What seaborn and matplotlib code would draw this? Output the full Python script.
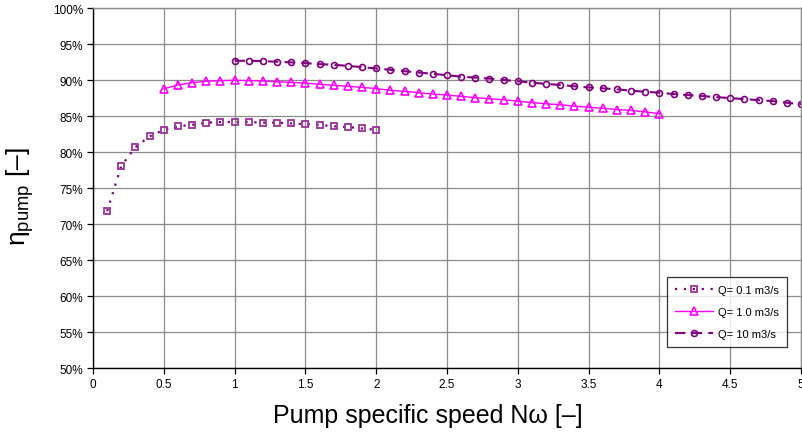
import numpy as np
import pandas as pd
import matplotlib
matplotlib.use("Agg")
import matplotlib.pyplot as plt
import seaborn as sns
from matplotlib.ticker import PercentFormatter

# Q = 0.1 m3/s
x_q01 = [0.1, 0.2, 0.3, 0.4, 0.5, 0.6, 0.7, 0.8, 0.9, 1.0,
         1.1, 1.2, 1.3, 1.4, 1.5, 1.6, 1.7, 1.8, 1.9, 2.0]
eta_q01 = [71.8, 78.1, 80.7, 82.2, 83.1, 83.6, 83.8, 84.1, 84.2, 84.2,
           84.2, 84.1, 84.1, 84.0, 83.9, 83.8, 83.6, 83.5, 83.3, 83.1]

# Q = 1.0 m3/s
x_q1 = [0.5, 0.6, 0.7, 0.8, 0.9, 1.0, 1.1, 1.2, 1.3, 1.4, 1.5, 1.6,
        1.7, 1.8, 1.9, 2.0, 2.1, 2.2, 2.3, 2.4, 2.5, 2.6, 2.7, 2.8,
        2.9, 3.0, 3.1, 3.2, 3.3, 3.4, 3.5, 3.6, 3.7, 3.8, 3.9, 4.0]
eta_q1 = [88.8, 89.35, 89.67, 89.86, 89.95, 90.0, 89.95, 89.9, 89.8, 89.7, 89.6, 89.44,
          89.3, 89.16, 89.0, 88.85, 88.6, 88.46, 88.27, 88.08, 87.94, 87.76, 87.57, 87.43,
          87.29, 87.1, 86.9, 86.73, 86.6, 86.4, 86.26, 86.1, 85.93, 85.8, 85.6, 85.37]

# Q = 10 m3/s
x_q10 = [1.0, 1.1, 1.2, 1.3, 1.4, 1.5, 1.6, 1.7, 1.8, 1.9, 2.0,
         2.1, 2.2, 2.3, 2.4, 2.5, 2.6, 2.7, 2.8, 2.9, 3.0,
         3.1, 3.2, 3.3, 3.4, 3.5, 3.6, 3.7, 3.8, 3.9, 4.0,
         4.1, 4.2, 4.3, 4.4, 4.5, 4.6, 4.7, 4.8, 4.9, 5.0]
eta_q10 = [92.71, 92.71, 92.66, 92.57, 92.48, 92.38, 92.24, 92.15, 92.0, 91.82, 91.64,
           91.45, 91.26, 91.07, 90.89, 90.7, 90.5, 90.37, 90.23, 90.05, 89.86,
           89.67, 89.49, 89.35, 89.16, 89.0, 88.88, 88.74, 88.55, 88.4, 88.27,
           88.08, 87.94, 87.8, 87.66, 87.52, 87.38, 87.24, 87.1, 86.87, 86.68]

labels = ["Q= 0.1 m3/s", "Q= 1.0 m3/s", "Q= 10 m3/s"]
xtick_labels = ["0", "0.5", "1", "1.5", "2", "2.5", "3", "3.5", "4", "4.5", "5"]

sns.set_style("white")
plt.rcParams['font.family'] = ['Liberation Sans', 'DejaVu Sans']
plt.rcParams['mathtext.fontset'] = 'custom'
plt.rcParams['mathtext.rm'] = 'Liberation Sans'
plt.rcParams['mathtext.it'] = 'Liberation Sans:italic'
plt.rcParams['text.color'] = 'black'
plt.rcParams['axes.labelcolor'] = 'black'
plt.rcParams['xtick.color'] = 'black'
plt.rcParams['ytick.color'] = 'black'

fig = plt.figure(figsize=(8.03, 4.35), dpi=100)
ax = fig.add_axes([0.1158, 0.1517, 0.8817, 0.8269])

df1 = pd.DataFrame({"x": x_q01, "y": eta_q01})
df2 = pd.DataFrame({"x": x_q1, "y": eta_q1})
df3 = pd.DataFrame({"x": x_q10, "y": eta_q10})

purple = "#800080"
magenta = "#FF00FF"

sns.lineplot(data=df1, x="x", y="y", ax=ax, color=purple, linestyle=(0, (1, 3)),
             linewidth=1.6, marker="s", markersize=4.3, markerfacecolor="none",
             markeredgecolor="#993399", markeredgewidth=1.3, label=labels[0])
sns.lineplot(data=df2, x="x", y="y", ax=ax, color=magenta, linestyle="-",
             linewidth=1.0, marker="^", markersize=5.5, markerfacecolor="none",
             markeredgecolor=magenta, markeredgewidth=1.2, label=labels[1])
sns.lineplot(data=df3, x="x", y="y", ax=ax, color=purple, linestyle=(0, (5, 3)),
             linewidth=1.5, marker="o", markersize=4.3, markerfacecolor="none",
             markeredgecolor=purple, markeredgewidth=1.2, label=labels[2])

ax.set_xlim(0, 5)
ax.set_ylim(50, 100)
ax.set_xticks(np.arange(0, 5.01, 0.5))
ax.set_xticklabels(xtick_labels)
ax.set_yticks(np.arange(50, 100.1, 5))
ax.yaxis.set_major_formatter(PercentFormatter(decimals=0))

ax.grid(True, color="#8c8c8c", linewidth=0.9)
ax.set_axisbelow(True)
for s in ["top", "right"]:
    ax.spines[s].set_color("#8c8c8c")
    ax.spines[s].set_linewidth(1.0)
for s in ["left", "bottom"]:
    ax.spines[s].set_color("black")
    ax.spines[s].set_linewidth(1.0)

ax.tick_params(axis="both", labelsize=8.5, length=4, width=0.9, color="black",
               direction="out", pad=3, left=True, bottom=True)

ax.set_xlabel("Pump specific speed N\u03c9 [\u2013]", fontsize=18)
ax.xaxis.set_label_coords(0.4725, -0.098)
ax.set_ylabel("\u03b7$_{\\mathrm{pump}}$ [\u2013]", fontsize=19)
ax.yaxis.set_label_coords(-0.08, 0.48)

leg = ax.legend(loc="lower right", bbox_to_anchor=(0.98, 0.058), borderaxespad=0,
                fontsize=8, frameon=True, fancybox=False, edgecolor="black",
                handlelength=3.4, handletextpad=0.5, labelspacing=1.1,
                borderpad=0.7)
leg.get_frame().set_linewidth(0.9)

fig.savefig("out.png", dpi=100)
